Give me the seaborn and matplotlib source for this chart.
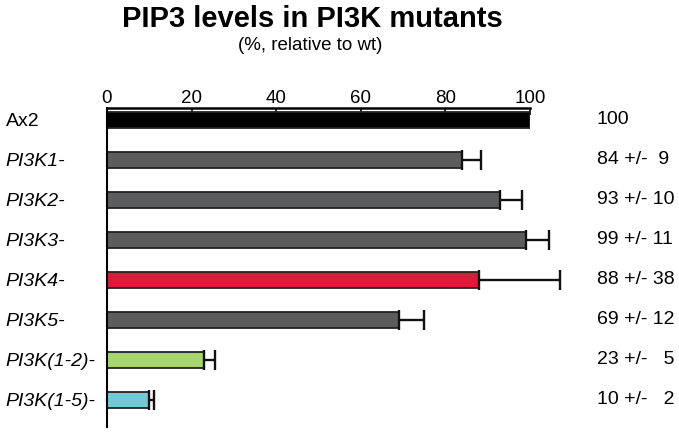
import matplotlib
matplotlib.use("Agg")
import matplotlib.pyplot as plt
import matplotlib.transforms as mtransforms
import seaborn as sns
import pandas as pd

categories = ["Ax2", "PI3K1-", "PI3K2-", "PI3K3-", "PI3K4-", "PI3K5-", "PI3K(1-2)-", "PI3K(1-5)-"]
values = [100, 84, 93, 99, 88, 69, 23, 10]
drawn_err = [0, 4.5, 5, 5.5, 19, 6, 2.5, 1]
value_labels = ["100", "84 +/-  9", "93 +/- 10", "99 +/- 11", "88 +/- 38", "69 +/- 12", "23 +/-   5", "10 +/-   2"]
bar_colors = ["#000000", "#5b5c60", "#5b5c60", "#5b5c60", "#dc1b3b", "#5b5c60", "#a7d56f", "#73c9d8"]
xticks = [0, 20, 40, 60, 80, 100]

sns.set_theme(style="white")
plt.rcParams["font.family"] = ["Liberation Sans", "DejaVu Sans"]
plt.rcParams["text.color"] = "black"
plt.rcParams["xtick.color"] = "black"
plt.rcParams["ytick.color"] = "black"

df = pd.DataFrame({"cat": categories, "val": values})

fig = plt.figure(figsize=(6.79, 4.36), dpi=100)
ax = fig.add_axes([107 / 679, 1 - 427 / 436, 423 / 679, (427 - 108) / 436])

sns.barplot(data=df, x="val", y="cat", hue="cat", palette=bar_colors, orient="h", saturation=1,
            width=0.4, edgecolor="#222222", linewidth=1.3, legend=False, ax=ax, errorbar=None)

ypos = list(range(len(categories)))
for y, v, e in zip(ypos, values, drawn_err):
    if e > 0:
        _, caps, lines = ax.errorbar(v, y, xerr=[[0], [e]], fmt="none", ecolor="#111111",
                                     elinewidth=1.7, capsize=7, capthick=1.7, zorder=1)
        for c in caps:
            c.set_clip_on(False)
        for l in lines:
            l.set_clip_on(False)

ax.set_xlim(0, 100)
ax.set_ylim(7.68, -0.3)
ax.set_xlabel("")
ax.set_ylabel("")
ax.xaxis.tick_top()
ax.set_xticks(xticks)
ax.set_xticklabels([str(t) for t in xticks], fontsize=13.5)
ax.tick_params(axis="x", direction="in", length=5, width=1.2, color="black", pad=1, top=True, bottom=False)

ax.set_yticks(ypos)
ax.set_yticklabels(categories, fontsize=14, ha="left")
ax.tick_params(axis="y", length=0, pad=73)
for i, lab in enumerate(ax.get_yticklabels()):
    if i > 0:
        lab.set_fontstyle("italic")

for s in ["right", "bottom"]:
    ax.spines[s].set_visible(False)
ax.spines["top"].set_linewidth(1.8)
ax.spines["left"].set_linewidth(1.5)
ax.spines["top"].set_color("black")
ax.spines["left"].set_color("black")
ax.grid(False)

trans = mtransforms.blended_transform_factory(fig.transFigure, ax.transData)
for y, lab in zip(ypos, value_labels):
    ax.text(597 / 679, y, lab, transform=trans, ha="left", va="center", fontsize=14, clip_on=False)

fig.text(312 / 679, 1 - 19 / 436, "PIP3 levels in PI3K mutants", ha="center", va="center",
         fontsize=21, fontweight="bold")
fig.text(310 / 679, 1 - 46 / 436, "(%, relative to wt)", ha="center", va="center", fontsize=13.5)

fig.savefig("out.png", dpi=100)
